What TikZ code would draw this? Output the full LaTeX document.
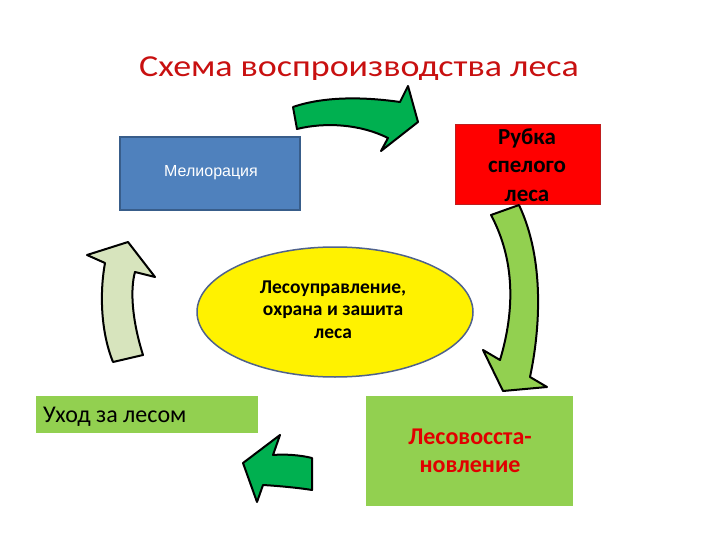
\documentclass[tikz,border=0pt]{standalone}
\usepackage{fontspec}
\setmainfont{Carlito}
\newfontfamily\arialfont{Liberation Sans}
\usetikzlibrary{shapes.geometric}
\definecolor{titlered}{RGB}{200,16,16}
\definecolor{bluefill}{RGB}{79,129,189}
\definecolor{blueedge}{RGB}{56,93,138}
\definecolor{redfill}{RGB}{255,0,0}
\definecolor{rededge}{RGB}{190,30,30}
\definecolor{lgreen}{RGB}{146,208,80}
\definecolor{dgreen}{RGB}{0,176,80}
\definecolor{pgreen}{RGB}{215,228,189}
\definecolor{elledge}{RGB}{79,98,140}
\definecolor{textred}{RGB}{225,0,0}
\tikzset{
  arrowshape/.style={draw=black, line width=2pt, line join=round},
}
\begin{document}
\begin{tikzpicture}[x=1pt,y=-1pt]
\useasboundingbox (0,0) rectangle (720,540);
% title, clipped at bottom
\begin{scope}
\clip (0,0) rectangle (720,79.5);
\node[anchor=base, text=titlered, font=\fontsize{30.5}{36}\selectfont, inner sep=0pt] (title) at (359,77) {\scalebox{1.18}[1]{Схема воспроизводства леса}};
\end{scope}
% boxes
\draw[fill=bluefill, draw=blueedge, line width=1.5pt] (120,137) rectangle (300,210);
\node[anchor=base, text=white, font=\arialfont\fontsize{16}{19}\selectfont, inner sep=0pt] (mel) at (211,177) {Мелиорация};
\draw[fill=redfill, draw=rededge, line width=1pt] (455,125) rectangle (600,205);
\node[anchor=base, align=center, text=black, font=\bfseries\fontsize{23}{29}\selectfont, inner sep=0pt] (rub) at (527,202) {Рубка\\спелого\\леса};
\fill[lgreen] (36,396) rectangle (258,433);
\node[anchor=base west, text=black, font=\fontsize{24}{29}\selectfont, inner sep=0pt] (uhod) at (43,422) {Уход за лесом};
\fill[lgreen] (366,396) rectangle (573,506);
\node[anchor=base, align=center, text=textred, font=\bfseries\fontsize{24}{27.5}\selectfont, inner sep=0pt] (vosst) at (470,472) {Лесовосста-\\новление};
% ellipse
\node[ellipse, fill=yellow, draw=elledge, line width=1.5pt, minimum width=276pt, minimum height=130pt, inner sep=0pt] (ell) at (335,312) {};
\node[anchor=base, align=center, text=black, font=\bfseries\fontsize{19.5}{22.5}\selectfont, inner sep=0pt] (elltext) at (333,338) {Лесоуправление,\\охрана и зашита\\леса};
% top arrow
\draw[arrowshape, fill=dgreen] (293,107) .. controls (325,96) and (365,97) .. (400,102) -- (408,86) -- (418,122) -- (381,151) -- (388,138) .. controls (360,124) and (325,122) .. (297,129) -- cycle;
% right down arrow
\draw[arrowshape, fill=lgreen] (491,215) -- (519,205) .. controls (545,260) and (540,330) .. (530,377) -- (547,387) -- (503,391) -- (483,350) -- (500,360) .. controls (515,310) and (515,260) .. (491,215) -- cycle;
% bottom left arrow
\draw[arrowshape, fill=dgreen] (312,458) .. controls (300,455) and (285,454) .. (273,455) -- (280,435) -- (243,463) -- (257,502) -- (263,485) .. controls (280,486) and (300,488) .. (312,490) -- cycle;
% left up arrow
\draw[arrowshape, fill=pgreen] (113,362) -- (143,355) .. controls (132,320) and (130,290) .. (135,272) -- (155,277) -- (128,242) -- (87,255) -- (105,263) .. controls (100,290) and (100,330) .. (113,362) -- cycle;
\end{tikzpicture}
\end{document}
